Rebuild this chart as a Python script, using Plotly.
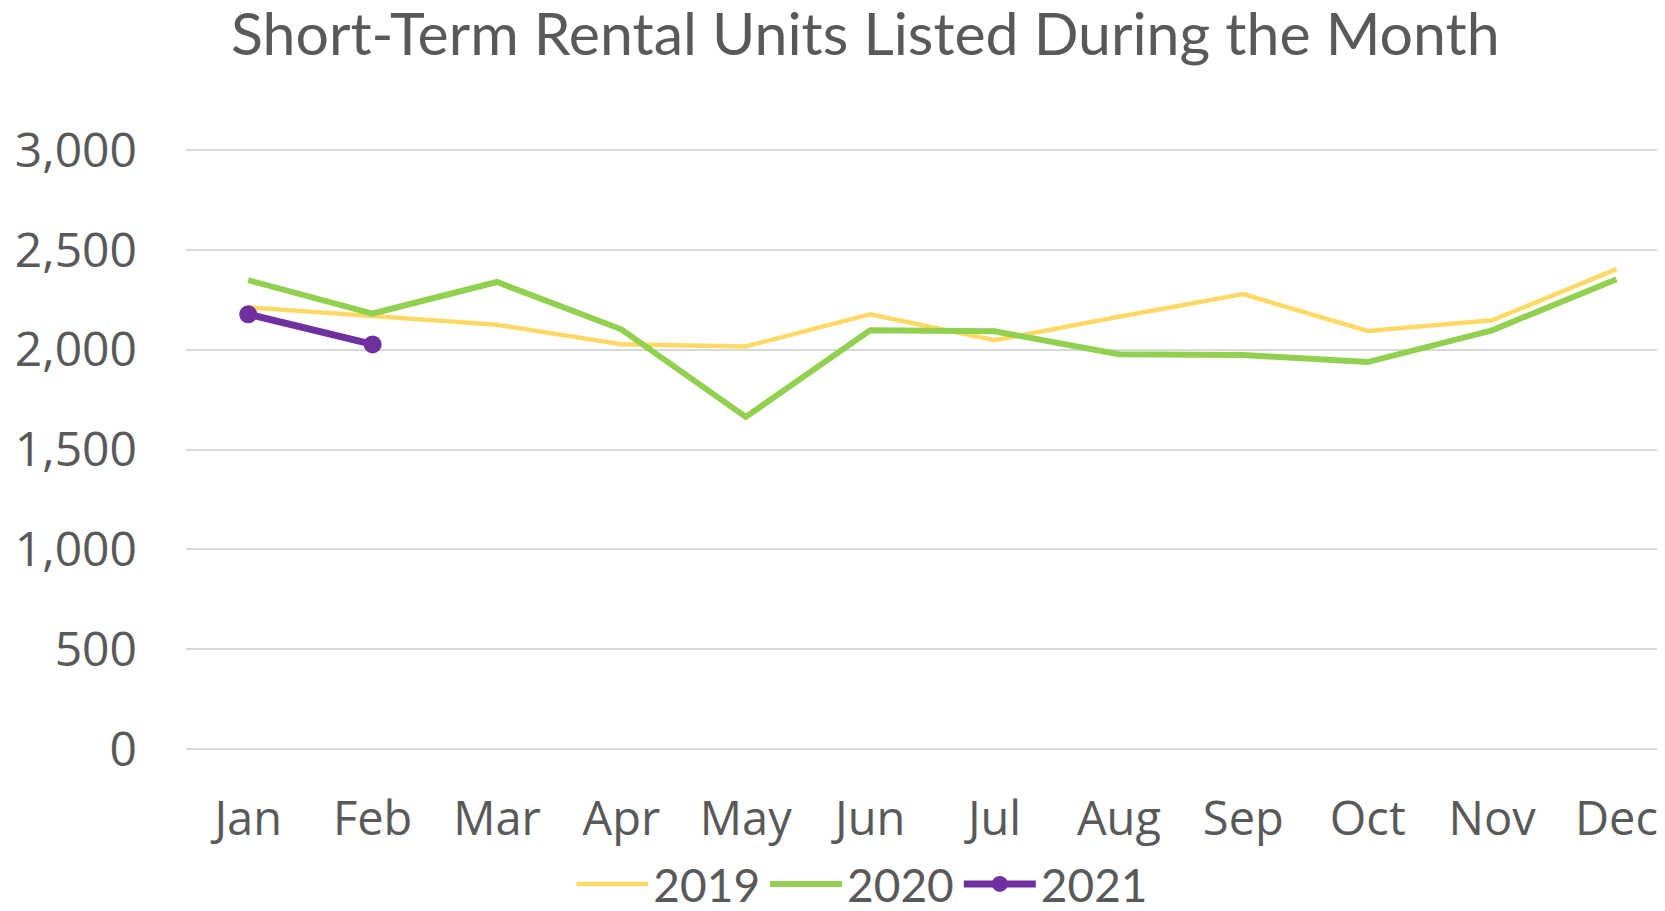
"""Short-term rental units listed during the month, 2019-2021."""

import plotly.graph_objects as go

months = ["Jan", "Feb", "Mar", "Apr", "May", "Jun",
          "Jul", "Aug", "Sep", "Oct", "Nov", "Dec"]
units_2019 = [2212, 2168, 2125, 2027, 2016, 2177, 2047, 2165, 2278, 2094, 2147, 2403]
units_2020 = [2348, 2181, 2339, 2102, 1663, 2097, 2092, 1977, 1973, 1938, 2097, 2353]
units_2021 = [2177, 2026]

TEXT = "#595959"
GRID = "#D9D9D9"

# the page body keeps its default 8px margin, so the figure is 8px smaller
W, H = 1657, 903

fig = go.Figure()
fig.add_trace(go.Scatter(x=months, y=units_2019, name="2019", mode="lines",
                         line=dict(color="#FFD966", width=4.5)))
fig.add_trace(go.Scatter(x=months, y=units_2020, name="2020", mode="lines",
                         line=dict(color="#92D050", width=6)))
fig.add_trace(go.Scatter(x=months[:2], y=units_2021, name="2021", mode="lines+markers",
                         line=dict(color="#7030A0", width=7),
                         marker=dict(color="#7030A0", size=18)))

fig.update_layout(
    width=W, height=H,
    margin=dict(l=178, r=0, t=140, b=160),
    paper_bgcolor="white", plot_bgcolor="white",
    title=dict(text="Short-Term Rental Units Listed During the Month",
               font=dict(family="Lato", size=59, color=TEXT),
               x=0.5174, xanchor="center", yref="container", y=1, yanchor="top",
               pad=dict(t=6)),
    legend=dict(orientation="h", x=0.4573, xanchor="center",
                yref="container", y=1 - 876 / H, yanchor="middle",
                itemwidth=72,
                font=dict(family="Lato", size=46, color=TEXT)),
    xaxis=dict(range=[-0.5, 11.39], showgrid=False, showline=False, ticks="",
               ticklabelstandoff=36, automargin=False,
               tickfont=dict(family="Open Sans", size=47, color=TEXT)),
    yaxis=dict(range=[-10, 3010], dtick=500, tickformat=",", showgrid=True,
               gridcolor=GRID, gridwidth=2, zeroline=True, zerolinecolor=GRID,
               zerolinewidth=2, showline=False, ticks="", ticklabelstandoff=48,
               automargin=False,
               tickfont=dict(family="Open Sans", size=48, color=TEXT)),
)

fig.write_html("out.html")
